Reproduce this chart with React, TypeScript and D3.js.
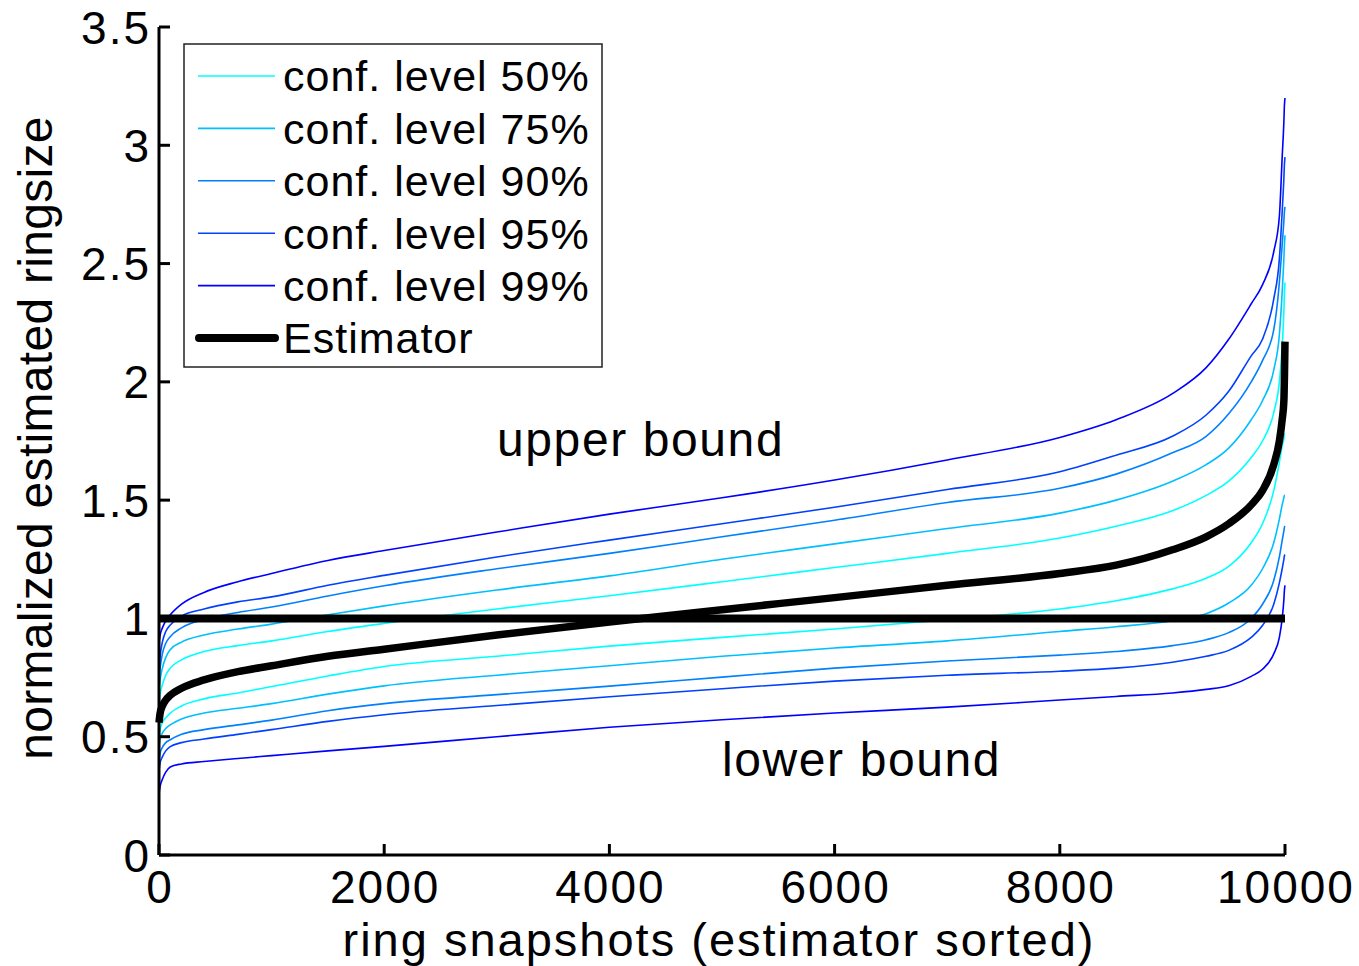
import React from 'react';
import * as d3 from 'd3';

// Sorted snapshot index at which each series is sampled
const snapshotIdx = [0, 10, 30, 60, 100, 200, 400, 700, 1000, 1500, 2000, 3000, 4000, 5000, 6000, 7000, 8000, 8500, 9000, 9300, 9500, 9700, 9800, 9900, 9950, 9975, 9990, 9995, 10000];

// Normalized estimator (sorted)
const estimator = [0.56, 0.60, 0.63, 0.655, 0.675, 0.705, 0.74, 0.775, 0.80, 0.84, 0.87, 0.93, 0.985, 1.037, 1.088, 1.14, 1.19, 1.225, 1.29, 1.345, 1.40, 1.48, 1.54, 1.65, 1.75, 1.84, 1.92, 2.02, 2.17];

// Upper bounds per confidence level
const upper50 = [0.64, 0.68, 0.72, 0.76, 0.79, 0.825, 0.86, 0.885, 0.905, 0.945, 0.979, 1.04, 1.096, 1.155, 1.215, 1.275, 1.34, 1.39, 1.455, 1.52, 1.58, 1.68, 1.75, 1.87, 2.00, 2.15, 2.30, 2.38, 2.42];
const upper75 = [0.70, 0.74, 0.79, 0.835, 0.868, 0.90, 0.93, 0.955, 0.976, 1.015, 1.053, 1.12, 1.18, 1.25, 1.315, 1.38, 1.445, 1.50, 1.58, 1.65, 1.72, 1.84, 1.92, 2.05, 2.20, 2.38, 2.52, 2.58, 2.62];
const upper90 = [0.74, 0.79, 0.85, 0.895, 0.923, 0.96, 0.995, 1.025, 1.048, 1.095, 1.138, 1.21, 1.275, 1.345, 1.415, 1.49, 1.55, 1.61, 1.70, 1.77, 1.865, 2.00, 2.09, 2.22, 2.42, 2.58, 2.68, 2.72, 2.74];
const upper95 = [0.78, 0.84, 0.90, 0.945, 0.972, 1.01, 1.04, 1.07, 1.091, 1.14, 1.182, 1.26, 1.331, 1.40, 1.47, 1.545, 1.62, 1.69, 1.77, 1.86, 1.96, 2.11, 2.18, 2.35, 2.52, 2.72, 2.86, 2.92, 2.95];
const upper99 = [0.90, 0.93, 0.96, 0.99, 1.015, 1.06, 1.11, 1.155, 1.19, 1.245, 1.287, 1.365, 1.441, 1.51, 1.585, 1.67, 1.765, 1.84, 1.95, 2.06, 2.18, 2.33, 2.41, 2.55, 2.70, 2.95, 3.10, 3.17, 3.20];

// Lower bounds per confidence level
const lower50 = [0.50, 0.53, 0.56, 0.58, 0.60, 0.63, 0.66, 0.685, 0.712, 0.757, 0.797, 0.84, 0.883, 0.92, 0.955, 0.995, 1.04, 1.075, 1.125, 1.17, 1.22, 1.32, 1.40, 1.54, 1.66, 1.73, 1.76, 1.78, 1.78];
const lower75 = [0.46, 0.49, 0.515, 0.535, 0.55, 0.575, 0.60, 0.62, 0.64, 0.68, 0.715, 0.76, 0.80, 0.84, 0.875, 0.905, 0.945, 0.965, 0.99, 1.02, 1.065, 1.14, 1.21, 1.32, 1.42, 1.48, 1.51, 1.52, 1.52];
const lower90 = [0.40, 0.43, 0.455, 0.475, 0.487, 0.51, 0.53, 0.55, 0.57, 0.61, 0.64, 0.678, 0.714, 0.752, 0.79, 0.82, 0.845, 0.86, 0.885, 0.91, 0.94, 1.00, 1.06, 1.16, 1.26, 1.33, 1.37, 1.385, 1.39];
const lower95 = [0.36, 0.39, 0.415, 0.44, 0.458, 0.475, 0.49, 0.51, 0.53, 0.565, 0.593, 0.632, 0.669, 0.703, 0.735, 0.76, 0.777, 0.79, 0.815, 0.84, 0.865, 0.92, 0.97, 1.06, 1.15, 1.21, 1.25, 1.265, 1.27];
const lower99 = [0.26, 0.29, 0.32, 0.35, 0.372, 0.385, 0.395, 0.408, 0.42, 0.44, 0.459, 0.50, 0.54, 0.572, 0.60, 0.625, 0.655, 0.67, 0.685, 0.70, 0.715, 0.755, 0.785, 0.85, 0.92, 1.00, 1.08, 1.12, 1.14];

// Reference line at the true ring size
const refX = [0, 10000];
const refY = [1, 1];

const levelLabels = ['conf. level 50%', 'conf. level 75%', 'conf. level 90%', 'conf. level 95%', 'conf. level 99%'];
const levelColors = ['#00ffff', '#00bfff', '#0080ff', '#0040ff', '#0000ff'];
const upperBounds = [upper50, upper75, upper90, upper95, upper99];
const lowerBounds = [lower50, lower75, lower90, lower95, lower99];

const xTicks = [0, 2000, 4000, 6000, 8000, 10000];
const yTicks = [0, 0.5, 1, 1.5, 2, 2.5, 3, 3.5];

const FONT = '"Liberation Sans", Arial, Helvetica, sans-serif';

export default function App() {
  const W = 1359;
  const H = 966;
  const x = d3.scaleLinear().domain([0, 10000]).range([159, 1285]);
  const y = d3.scaleLinear().domain([0, 3.5]).range([855, 27]);

  const seriesLine = d3
    .line<number>()
    .x((_, i) => x(snapshotIdx[i]))
    .y((d) => y(d))
    .curve(d3.curveMonotoneX);

  const refLine = d3
    .line<number>()
    .x((_, i) => x(refX[i]))
    .y((d) => y(d));

  const [x0, x1] = x.range();
  const [yBottom, yTop] = y.range();
  const tickLen = 11;

  // legend geometry
  const lgX = 184;
  const lgY = 44;
  const lgW = 418;
  const lgH = 323;
  const rowY = (i: number) => 76 + i * 52.4;

  return (
    <svg
      width={W}
      height={H}
      style={{ position: 'absolute', left: 0, top: 0, background: '#fff' }}
      fontFamily={FONT}
    >
      <rect x={0} y={0} width={W} height={H} fill="#fff" />

      {/* confidence bounds */}
      {upperBounds.map((s, i) => (
        <path key={`u${i}`} d={seriesLine(s) || ''} fill="none" stroke={levelColors[i]} strokeWidth={1.6} />
      ))}
      {lowerBounds.map((s, i) => (
        <path key={`l${i}`} d={seriesLine(s) || ''} fill="none" stroke={levelColors[i]} strokeWidth={1.6} />
      ))}

      {/* estimator */}
      <path d={seriesLine(estimator) || ''} fill="none" stroke="#000" strokeWidth={7.5} strokeLinejoin="round" />

      {/* reference line */}
      <path d={refLine(refY) || ''} fill="none" stroke="#000" strokeWidth={8} />

      {/* axes */}
      <line x1={x0} y1={yBottom} x2={x0} y2={yTop} stroke="#000" strokeWidth={3} />
      <line x1={x0} y1={yBottom} x2={x1} y2={yBottom} stroke="#000" strokeWidth={3} />

      {xTicks.map((t) => (
        <g key={`xt${t}`}>
          <line x1={x(t)} x2={x(t)} y1={yBottom} y2={yBottom - tickLen} stroke="#000" strokeWidth={3} />
          <text x={x(t) + 1} y={903} fontSize={46} letterSpacing={2} textAnchor="middle" fill="#000">
            {t}
          </text>
        </g>
      ))}
      {yTicks.map((t) => (
        <g key={`yt${t}`}>
          <line x1={x0} x2={x0 + tickLen} y1={y(t)} y2={y(t)} stroke="#000" strokeWidth={3} />
          <text x={151} y={y(t)} dy="0.36em" fontSize={46} letterSpacing={2} textAnchor="end" fill="#000">
            {t}
          </text>
        </g>
      ))}

      {/* axis titles */}
      <text x={719} y={956} fontSize={47} letterSpacing={2} textAnchor="middle" fill="#000">
        ring snapshots (estimator sorted)
      </text>
      <text
        transform={`translate(52, ${(yTop + yBottom) / 2 - 3}) rotate(-90)`}
        fontSize={48}
        letterSpacing={0.3}
        textAnchor="middle"
        fill="#000"
      >
        normalized estimated ringsize
      </text>

      {/* annotations */}
      <text x={497} y={456} fontSize={48} letterSpacing={1.6} fill="#000">upper bound</text>
      <text x={722} y={776} fontSize={48} letterSpacing={1.6} fill="#000">lower bound</text>

      {/* legend */}
      <rect x={lgX} y={lgY} width={lgW} height={lgH} fill="#fff" stroke="#222" strokeWidth={1.5} />
      {levelLabels.map((lab, i) => (
        <g key={lab}>
          <line x1={198} x2={275} y1={rowY(i)} y2={rowY(i)} stroke={levelColors[i]} strokeWidth={1.6} />
          <text x={283} y={rowY(i)} dy="0.36em" fontSize={43} letterSpacing={1} fill="#000">
            {lab}
          </text>
        </g>
      ))}
      <line x1={199} x2={275} y1={rowY(5)} y2={rowY(5)} stroke="#000" strokeWidth={8} strokeLinecap="round" />
      <text x={283} y={rowY(5)} dy="0.36em" fontSize={43} letterSpacing={1} fill="#000">
        Estimator
      </text>
    </svg>
  );
}
